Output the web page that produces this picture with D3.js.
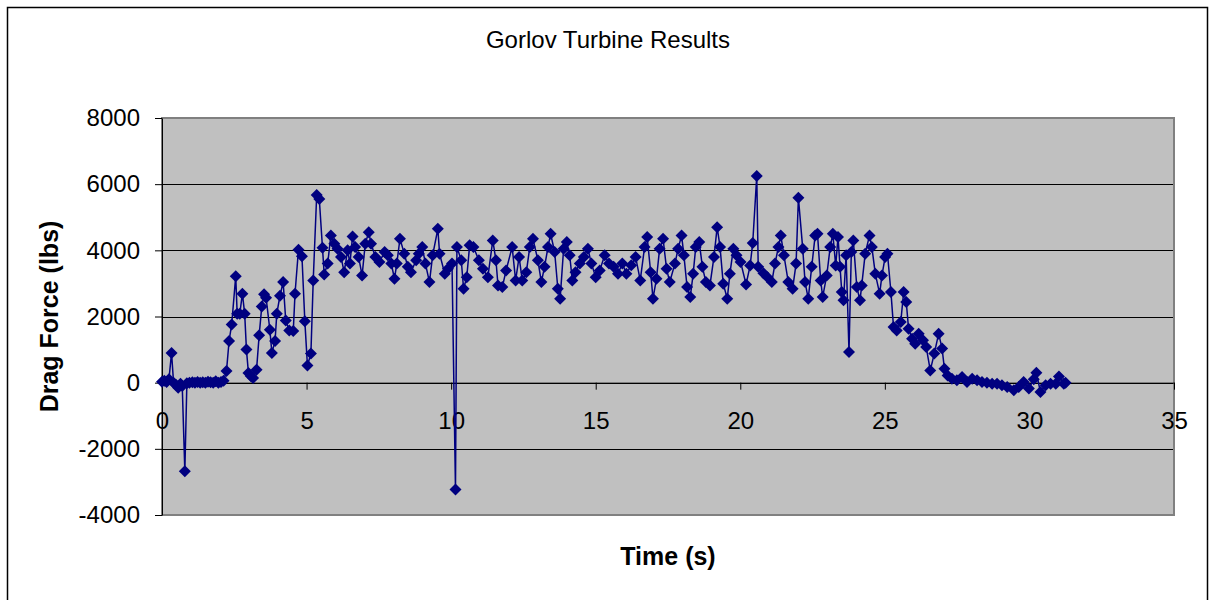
<!DOCTYPE html>
<html>
<head>
<meta charset="utf-8">
<script src="https://cdn.jsdelivr.net/npm/d3@7"></script>
<style>
  body { margin: 0; background: #fff; }
  svg { display: block; font-family: "Liberation Sans", Arial, sans-serif; }
</style>
</head>
<body>
<div id="chartDiv"></div>
<script>
// Gorlov turbine drag force vs time

var timeS = [
  0.00, 0.08, 0.16, 0.24, 0.33, 0.40, 0.48, 0.56, 0.64, 0.70,
  0.79, 0.86, 0.95, 1.05, 1.14, 1.23, 1.32, 1.41, 1.50, 1.59,
  1.68, 1.77, 1.86, 1.95, 2.04, 2.13, 2.23, 2.32, 2.41, 2.55,
  2.60, 2.69, 2.78, 2.86, 2.92, 2.99, 3.07, 3.15, 3.27, 3.36,
  3.45, 3.53, 3.60, 3.73, 3.80, 3.91, 3.97, 4.08, 4.19, 4.28,
  4.40, 4.54, 4.60, 4.72, 4.84, 4.94, 5.03, 5.15, 5.23, 5.35,
  5.44, 5.55, 5.61, 5.73, 5.84, 5.96, 6.07, 6.19, 6.30, 6.42,
  6.50, 6.59, 6.68, 6.80, 6.92, 7.03, 7.15, 7.23, 7.38, 7.52,
  7.70, 7.81, 7.93, 8.04, 8.12, 8.23, 8.38, 8.50, 8.61, 8.79,
  8.88, 9.00, 9.11, 9.25, 9.36, 9.54, 9.60, 9.78, 9.89, 10.03,
  10.15, 10.20, 10.35, 10.43, 10.54, 10.64, 10.77, 10.96, 11.10, 11.27,
  11.44, 11.55, 11.62, 11.77, 11.90, 12.11, 12.23, 12.35, 12.46, 12.60,
  12.72, 12.83, 13.00, 13.12, 13.23, 13.35, 13.44, 13.58, 13.69, 13.77,
  13.89, 14.00, 14.10, 14.19, 14.30, 14.45, 14.59, 14.73, 14.85, 15.00,
  15.14, 15.31, 15.46, 15.62, 15.77, 15.92, 16.06, 16.23, 16.38, 16.54,
  16.69, 16.78, 16.90, 16.98, 17.10, 17.21, 17.33, 17.45, 17.56, 17.74,
  17.85, 17.97, 18.05, 18.16, 18.27, 18.37, 18.46, 18.58, 18.69, 18.81,
  18.95, 19.09, 19.20, 19.30, 19.41, 19.55, 19.64, 19.76, 19.87, 20.01,
  20.20, 20.34, 20.43, 20.57, 20.62, 20.80, 20.94, 21.09, 21.20, 21.32,
  21.40, 21.51, 21.66, 21.81, 21.93, 22.01, 22.16, 22.24, 22.35, 22.47,
  22.59, 22.67, 22.78, 22.85, 22.99, 23.11, 23.20, 23.30, 23.38, 23.45,
  23.51, 23.57, 23.66, 23.76, 23.84, 23.91, 24.03, 24.14, 24.20, 24.32,
  24.47, 24.55, 24.67, 24.82, 24.90, 25.01, 25.09, 25.21, 25.30, 25.41,
  25.55, 25.65, 25.74, 25.82, 25.94, 26.05, 26.17, 26.32, 26.43, 26.57,
  26.71, 26.86, 26.98, 27.06, 27.17, 27.32, 27.49, 27.67, 27.84, 28.02,
  28.19, 28.36, 28.53, 28.71, 28.88, 29.05, 29.23, 29.46, 29.63, 29.80,
  29.98, 30.15, 30.24, 30.38, 30.56, 30.73, 30.91, 31.02, 31.19, 31.25
];

var dragLbs = [
  30, 60, 20, 100, 900, 0, -60, -150, -30, -100,
  -2680, -20, 0, 10, 0, 20, 0, 10, 0, 30,
  10, 0, 40, 0, 20, 60, 350, 1260, 1760, 3220,
  2080, 2080, 2690, 2080, 1000, 290, 200, 140, 390, 1430,
  2300, 2670, 2570, 1600, 900, 1260, 2080, 2630, 3040, 1880,
  1580, 1560, 2690, 4020, 3820, 1860, 520, 880, 3090, 5670,
  5550, 4080, 3270, 3600, 4450, 4200, 4050, 3800, 3340, 4000,
  3600, 4420, 4100, 3800, 3240, 4200, 4550, 4200, 3800, 3650,
  3950, 3850, 3600, 3140, 3600, 4350, 3900, 3500, 3340, 3700,
  3900, 4100, 3600, 3040, 3850, 4650, 3900, 3290, 3440, 3600,
  -3230, 4100, 3700, 2840, 3190, 4150, 4100, 3700, 3440, 3190,
  4300, 3700, 2940, 2890, 3390, 4100, 3090, 3800, 3090, 3340,
  4100, 4350, 3700, 3040, 3500, 4100, 4500, 3950, 2840, 2540,
  4050, 4250, 3850, 3090, 3340, 3600, 3800, 4050, 3600, 3190,
  3390, 3850, 3600, 3500, 3290, 3600, 3290, 3550, 3800, 3090,
  4100, 4400, 3340, 2540, 3140, 4050, 4350, 3440, 3040, 3600,
  4050, 4450, 3850, 2890, 2590, 3290, 4100, 4250, 3500, 3040,
  2940, 3800, 4700, 4100, 2990, 2540, 3290, 4050, 3850, 3650,
  2970, 3540, 4220, 6250, 3500, 3310, 3190, 3040, 3600, 4100,
  4450, 3850, 3040, 2840, 3600, 5590, 4050, 3040, 2540, 3500,
  4450, 4500, 3090, 2590, 3240, 4100, 4500, 3540, 4400, 3500,
  2740, 2490, 3850, 930, 3950, 4300, 2890, 2490, 2940, 3900,
  4450, 4100, 3290, 2690, 3240, 3800, 3900, 2740, 1680, 1580,
  1830, 2740, 2440, 1630, 1330, 1180, 1480, 1280, 1080, 370,
  880, 1480, 1030, 420, 220, 120, 70, 170, 20, 120,
  70, 20, 0, -30, -30, -80, -130, -230, -130, 20,
  -180, 100, 300, -280, -80, -30, -30, 190, -30, 0
];

var xTicks = [0, 5, 10, 15, 20, 25, 30, 35];
var yTicks = [-4000, -2000, 0, 2000, 4000, 6000, 8000];

var chartTitle = "Gorlov Turbine Results";
var xTitle = "Time (s)";
var yTitle = "Drag Force (lbs)";

var width = 1209;
var height = 600;
var plot = { left: 162, top: 118, right: 1174, bottom: 515 };

var svg = d3.select("#chartDiv")
  .append("svg")
  .attr("width", width)
  .attr("height", height);

// outer chart frame
svg.append("rect")
  .attr("x", 7.5).attr("y", 7.5)
  .attr("width", 1200).attr("height", 600)
  .attr("fill", "#fff")
  .attr("stroke", "#000")
  .attr("stroke-width", 1.5);

var xScale = d3.scaleLinear().domain([0, 35]).range([plot.left, plot.right]);
var yScale = d3.scaleLinear().domain([-4000, 8000]).range([plot.bottom, plot.top]);

// plain integer labels with an ascii hyphen for negatives
var plainNum = function(d) { return String(d); };

// plot area
svg.append("rect")
  .attr("x", plot.left).attr("y", plot.top)
  .attr("width", plot.right - plot.left)
  .attr("height", plot.bottom - plot.top)
  .attr("fill", "#c0c0c0");

// horizontal gridlines
svg.append("g")
  .selectAll("line")
  .data(yTicks.slice(1, -1))
  .enter()
  .append("line")
  .attr("x1", plot.left).attr("x2", plot.right)
  .attr("y1", function(d) { return Math.round(yScale(d)) + 0.5; })
  .attr("y2", function(d) { return Math.round(yScale(d)) + 0.5; })
  .attr("stroke", "#000")
  .attr("stroke-width", 1);

// plot border
svg.append("rect")
  .attr("x", plot.left).attr("y", plot.top)
  .attr("width", plot.right - plot.left)
  .attr("height", plot.bottom - plot.top)
  .attr("fill", "none")
  .attr("stroke", "#808080")
  .attr("stroke-width", 2);

// y axis
var yAxis = svg.append("g")
  .attr("transform", "translate(" + plot.left + ",0)")
  .call(d3.axisLeft(yScale).tickValues(yTicks).tickFormat(plainNum)
    .tickSize(7).tickSizeOuter(0).tickPadding(15));
yAxis.select(".domain").attr("stroke", "#000");
yAxis.selectAll(".tick line").attr("stroke", "#000");
yAxis.selectAll(".tick text")
  .attr("fill", "#000")
  .attr("font-size", "24px")
  .attr("font-family", "Liberation Sans, Arial, sans-serif");

// x axis crosses at zero
var xAxis = svg.append("g")
  .attr("transform", "translate(0," + yScale(0) + ")")
  .call(d3.axisBottom(xScale).tickValues(xTicks).tickFormat(plainNum)
    .tickSize(7).tickSizeOuter(0).tickPadding(22));
xAxis.select(".domain").attr("stroke", "#000");
xAxis.selectAll(".tick line").attr("stroke", "#000");
xAxis.selectAll(".tick text")
  .attr("fill", "#000")
  .attr("font-size", "24px")
  .attr("font-family", "Liberation Sans, Arial, sans-serif");

// series
var points = timeS.map(function(t, i) { return { t: t, v: dragLbs[i] }; });

var line = d3.line()
  .x(function(d) { return xScale(d.t); })
  .y(function(d) { return yScale(d.v); });

svg.append("path")
  .datum(points)
  .attr("d", line)
  .attr("fill", "none")
  .attr("stroke", "#000080")
  .attr("stroke-width", 1.5);

var diamond = d3.symbol().type(d3.symbolSquare).size(72);

svg.append("g")
  .selectAll("path")
  .data(points)
  .enter()
  .append("path")
  .attr("d", diamond)
  .attr("transform", function(d) {
    return "translate(" + xScale(d.t) + "," + yScale(d.v) + ") rotate(45)";
  })
  .attr("fill", "#000080");

// titles
svg.append("text")
  .attr("x", 608).attr("y", 48)
  .attr("text-anchor", "middle")
  .attr("font-size", "24px")
  .text(chartTitle);

svg.append("text")
  .attr("x", (plot.left + plot.right) / 2).attr("y", 565)
  .attr("text-anchor", "middle")
  .attr("font-size", "25px")
  .attr("font-weight", "bold")
  .text(xTitle);

svg.append("text")
  .attr("transform", "translate(58," + (plot.top + plot.bottom) / 2 + ") rotate(-90)")
  .attr("text-anchor", "middle")
  .attr("font-size", "25px")
  .attr("font-weight", "bold")
  .text(yTitle);
</script>
</body>
</html>
